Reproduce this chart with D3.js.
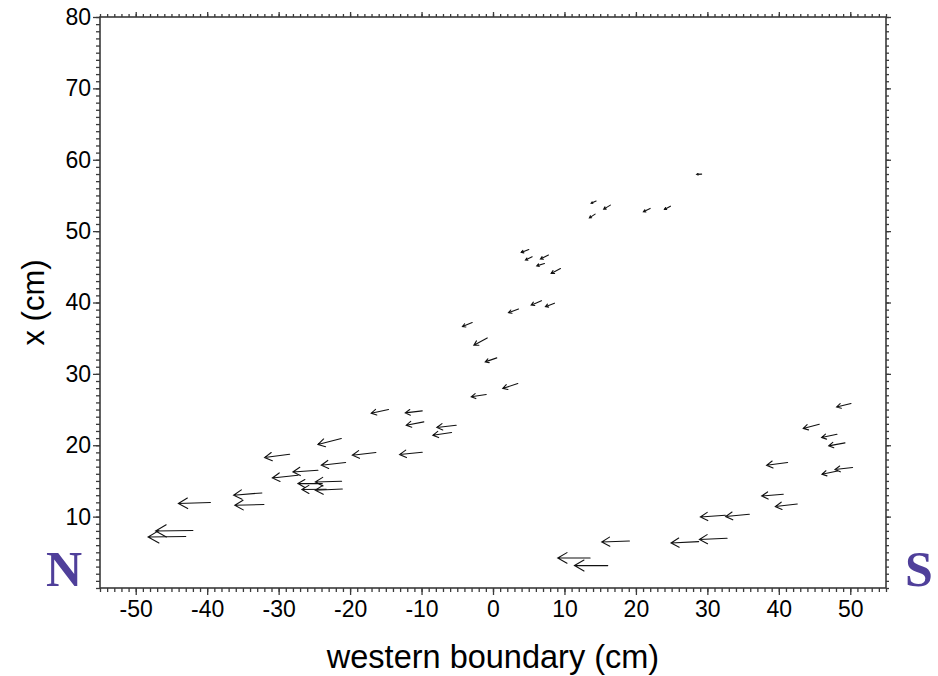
<!DOCTYPE html>
<html>
<head>
<meta charset="utf-8">
<script src="https://cdn.jsdelivr.net/npm/d3@7"></script>
<style>
  body { margin: 0; background: #fff; }
  svg text { font-family: "Liberation Sans", Arial, Helvetica, sans-serif; }
</style>
</head>
<body>
<svg id="chart" width="938" height="676"></svg>
<script>
// Arrow origins (tail) in plot units: western boundary (cm) and x (cm)
const xs = [-43.0, -42.0, -39.55, -32.34, -32.06, -28.46, -27.30, -24.50, -23.89, -21.19,
            -23.33, -21.09, -20.63, -21.23, -16.39, -14.62, -9.90, -9.68, -5.15, -5.80,
            -9.90, -0.95, 3.47, 0.53, -0.81, -2.91, 3.57, 6.78, 8.60, 5.01,
            5.48, 7.76, 7.20, 9.44, 14.43, 16.43, 14.29, 21.99, 24.83, 29.20,
            50.10, 45.66, 48.14, 49.26, 41.23, 48.22, 50.32, 40.63, 42.59, 32.52,
            35.87, 19.09, 28.78, 32.76, 13.59, 16.06];
const ys = [7.22, 8.06, 11.97, 13.32, 11.69, 18.74, 15.80, 16.50, 14.63, 14.96,
            13.84, 13.88, 17.58, 20.94, 18.98, 25.01, 24.81, 23.27, 22.81, 21.78,
            19.02, 27.11, 28.65, 32.24, 35.04, 37.20, 39.09, 40.26, 39.91, 47.43,
            46.40, 46.64, 45.47, 44.77, 54.21, 53.64, 52.38, 53.18, 53.50, 57.99,
            25.85, 22.95, 21.54, 20.33, 17.58, 16.40, 16.88, 13.13, 11.77, 10.19,
            10.33, 6.59, 6.50, 6.97, 4.21, 3.14];
// Arrow components in the same units (u along the boundary axis, v along x)
const us = [-5.27, -5.22, -4.48, -3.96, -4.07, -3.50, -3.58, -3.50, -3.41, -3.68,
            -3.41, -3.78, -3.40, -3.27, -3.30, -2.42, -2.38, -2.46, -2.71, -2.62,
            -3.17, -2.10, -2.10, -1.62, -1.87, -1.36, -1.40, -1.44, -1.26, -1.06,
            -0.94, -1.12, -1.08, -1.30, -0.70, -0.94, -0.80, -0.94, -0.84, -0.70,
            -2.01, -2.24, -2.15, -2.29, -2.94, -2.18, -2.46, -3.03, -3.08, -3.50,
            -3.31, -3.87, -3.86, -3.87, -4.53, -4.66];
const vs = [-0.07, -0.08, -0.14, -0.32, -0.10, -0.46, -0.38, -0.24, 0.00, -0.10,
            -0.04, -0.18, -0.38, -0.84, -0.38, -0.52, -0.28, -0.46, -0.32, -0.38,
            -0.32, -0.31, -0.70, -0.56, -1.02, -0.56, -0.52, -0.63, -0.49, -0.42,
            -0.46, -0.56, -0.34, -0.70, -0.32, -0.56, -0.52, -0.48, -0.46, -0.04,
            -0.48, -0.60, -0.46, -0.42, -0.38, -0.46, -0.28, -0.24, -0.36, -0.24,
            -0.32, -0.14, -0.20, -0.18, 0.00, 0.00];

const xDomain = [-55, 55];
const yDomain = [0, 80];
const xTickLabels = [-50, -40, -30, -20, -10, 0, 10, 20, 30, 40, 50];
const yTickLabels = [10, 20, 30, 40, 50, 60, 70, 80];
const xTitle = "western boundary (cm)";
const yTitle = "x (cm)";
const sideLabels = ["N", "S"];

const svg = d3.select("#chart");
const plotLeft = 100, plotRight = 886, plotTop = 17, plotBottom = 588;

const x = d3.scaleLinear().domain(xDomain).range([plotLeft, plotRight]);
const y = d3.scaleLinear().domain(yDomain).range([plotBottom, plotTop]);

const axisColor = "#3a3a3a";
const minorX = d3.range(xDomain[0], xDomain[1] + 1, 1);
const minorY = d3.range(yDomain[0], yDomain[1] + 1, 1);
const plainNumber = d => String(d);   // keeps an ASCII hyphen for negatives

function styleAxis(g) {
  g.select(".domain").remove();
  g.selectAll(".tick line").attr("stroke", axisColor).attr("stroke-width", 1.3);
  g.selectAll(".tick text")
    .attr("fill", "#000")
    .style("font-size", "23px");
}

// minor ticks on all four sides
svg.append("g").attr("transform", `translate(0,${plotBottom})`)
  .call(d3.axisBottom(x).tickValues(minorX).tickSize(4).tickFormat(""))
  .call(styleAxis);
svg.append("g").attr("transform", `translate(0,${plotTop})`)
  .call(d3.axisTop(x).tickValues(minorX).tickSize(3).tickFormat(""))
  .call(styleAxis);
svg.append("g").attr("transform", `translate(${plotLeft},0)`)
  .call(d3.axisLeft(y).tickValues(minorY).tickSize(4).tickFormat(""))
  .call(styleAxis);
svg.append("g").attr("transform", `translate(${plotRight},0)`)
  .call(d3.axisRight(y).tickValues(minorY).tickSize(3).tickFormat(""))
  .call(styleAxis);

// major ticks with labels
svg.append("g").attr("transform", `translate(0,${plotBottom})`)
  .call(d3.axisBottom(x).tickValues(xTickLabels).tickSize(7).tickPadding(6).tickFormat(plainNumber))
  .call(styleAxis);
svg.append("g").attr("transform", `translate(0,${plotTop})`)
  .call(d3.axisTop(x).tickValues(xTickLabels).tickSize(5).tickFormat(""))
  .call(styleAxis);
svg.append("g").attr("transform", `translate(${plotLeft},0)`)
  .call(d3.axisLeft(y).tickValues(yTickLabels).tickSize(7).tickPadding(2).tickFormat(plainNumber))
  .call(styleAxis);
svg.append("g").attr("transform", `translate(${plotRight},0)`)
  .call(d3.axisRight(y).tickValues(yTickLabels).tickSize(5).tickFormat(""))
  .call(styleAxis);

// frame
svg.append("rect")
  .attr("x", plotLeft).attr("y", plotTop)
  .attr("width", plotRight - plotLeft).attr("height", plotBottom - plotTop)
  .attr("fill", "none").attr("stroke", axisColor).attr("stroke-width", 1.6);

// arrows
const arrows = xs.map((d, i) => ({ x0: d, y0: ys[i], u: us[i], v: vs[i] }));
const headFrac = 0.33, headAngle = 30 * Math.PI / 180;

const g = svg.append("g")
  .attr("stroke", "#111").attr("stroke-width", 1.1)
  .attr("fill", "none").attr("stroke-linecap", "round");

arrows.forEach(a => {
  const tx = x(a.x0), ty = y(a.y0);
  const hx = x(a.x0 + a.u), hy = y(a.y0 + a.v);
  const dx = hx - tx, dy = hy - ty;
  const len = Math.hypot(dx, dy);
  const ang = Math.atan2(dy, dx);
  const hl = len * headFrac;
  const b1x = hx - hl * Math.cos(ang - headAngle), b1y = hy - hl * Math.sin(ang - headAngle);
  const b2x = hx - hl * Math.cos(ang + headAngle), b2y = hy - hl * Math.sin(ang + headAngle);
  g.append("path")
    .attr("d", `M${tx},${ty}L${hx},${hy}M${b1x},${b1y}L${hx},${hy}L${b2x},${b2y}`);
});

// axis titles
svg.append("text")
  .attr("x", (plotLeft + plotRight) / 2).attr("y", 668)
  .attr("text-anchor", "middle")
  .style("font-size", "32.5px")
  .text(xTitle);

svg.append("text")
  .attr("transform", `translate(44,${(plotTop + plotBottom) / 2}) rotate(-90)`)
  .attr("text-anchor", "middle")
  .style("font-size", "31px")
  .text(yTitle);

// N / S side markers
svg.selectAll("text.side")
  .data(sideLabels)
  .join("text")
  .attr("class", "side")
  .attr("x", (d, i) => i === 0 ? 64 : 919)
  .attr("y", 586)
  .attr("text-anchor", "middle")
  .attr("fill", "#4f3f9a")
  .style("font-family", "'Liberation Serif', 'Times New Roman', serif")
  .style("font-weight", "bold")
  .style("font-size", "50px")
  .text(d => d);
</script>
</body>
</html>
